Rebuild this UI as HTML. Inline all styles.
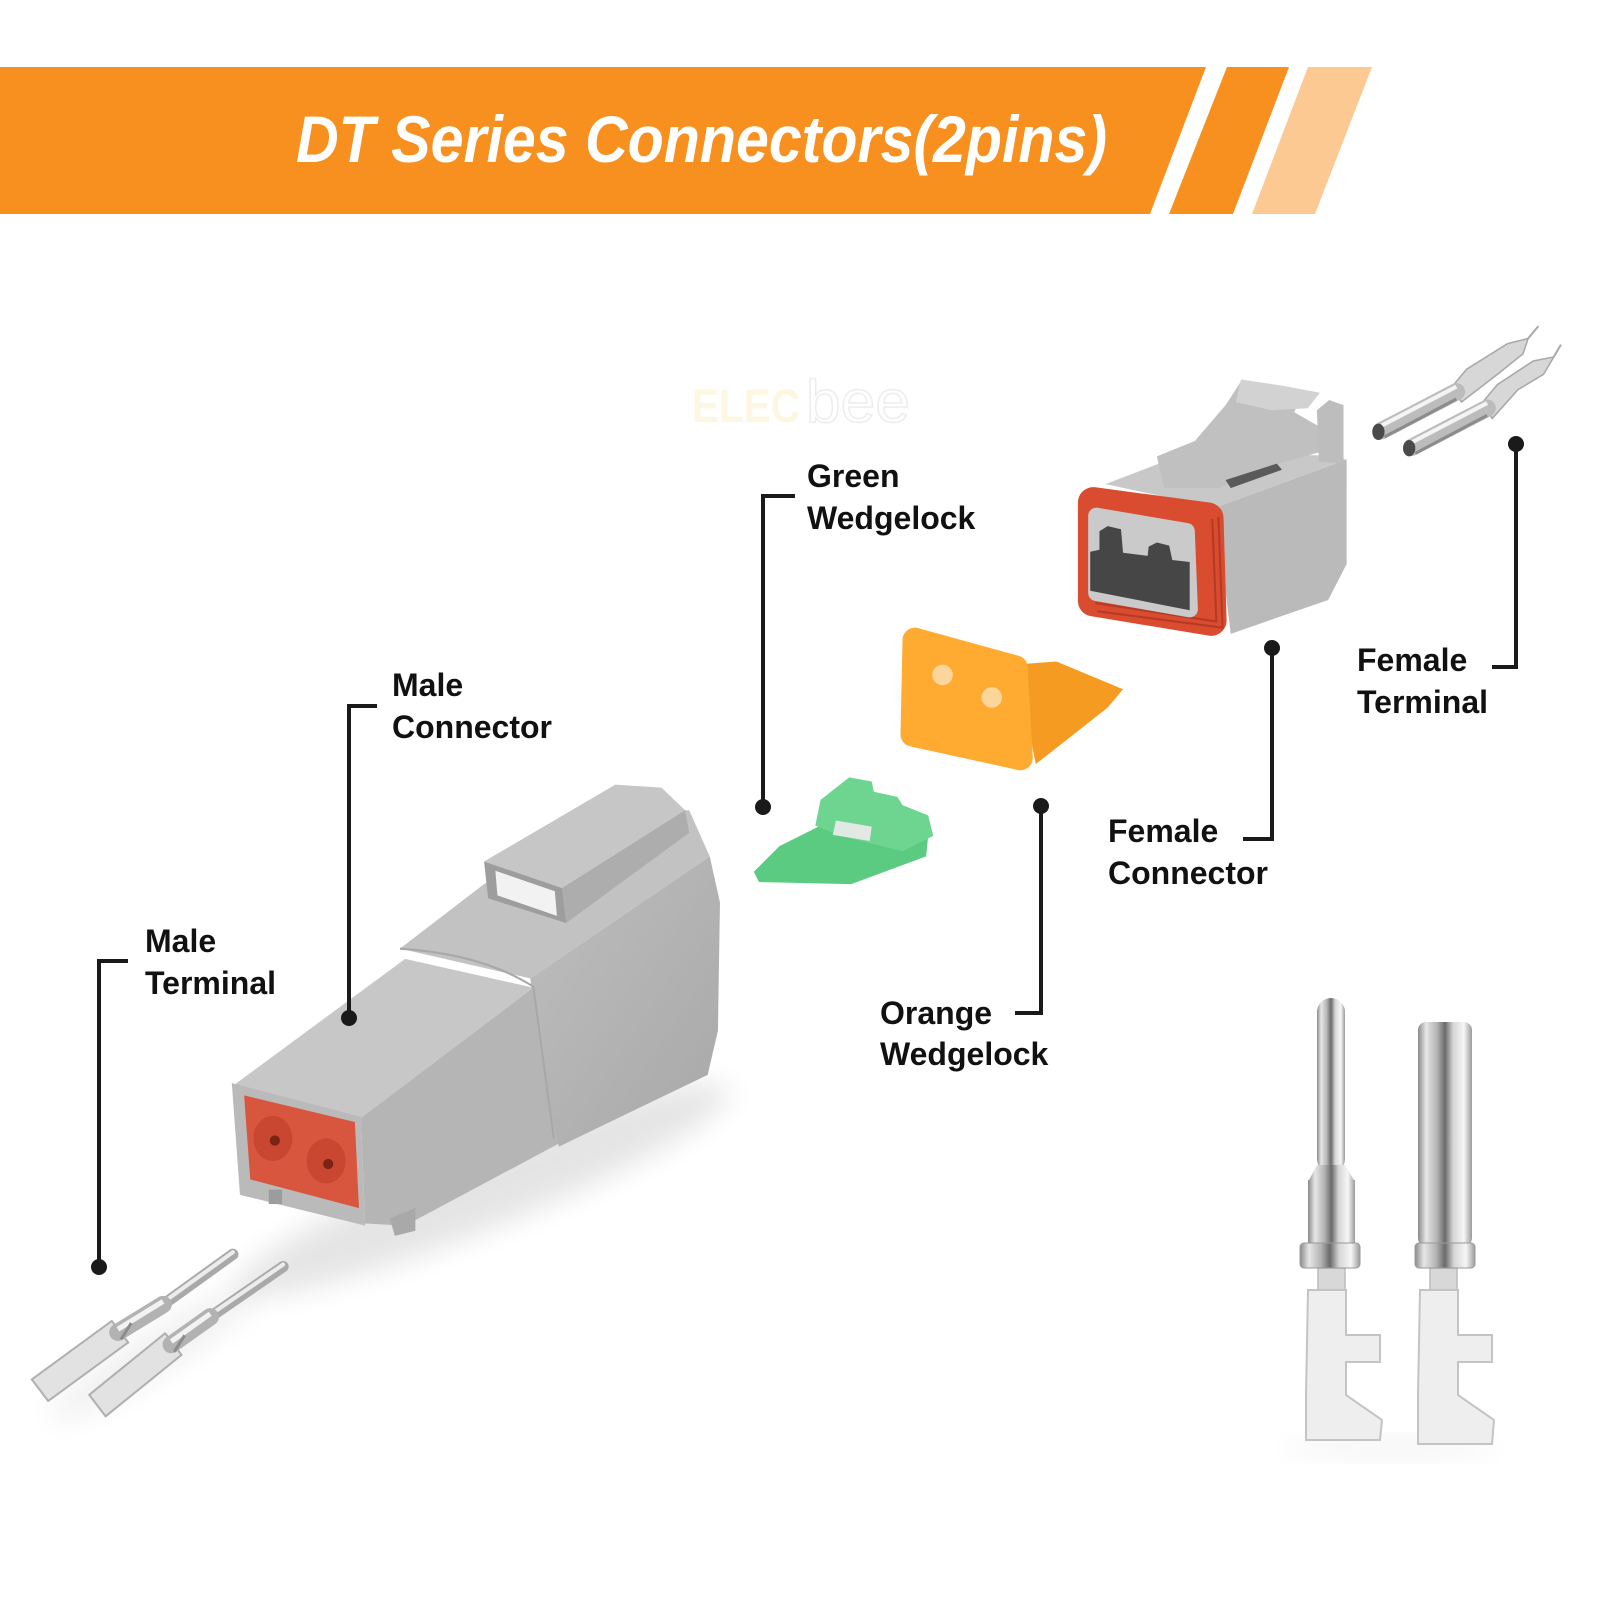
<!DOCTYPE html>
<html>
<head>
<meta charset="utf-8">
<style>
  html,body{margin:0;padding:0;background:#fff;}
  svg{display:block;}
  .lbl{font-family:"Liberation Sans",Arial,sans-serif;font-weight:bold;font-size:32px;fill:#111;}
</style>
</head>
<body>
<svg width="1600" height="1600" viewBox="0 0 1600 1600" xmlns="http://www.w3.org/2000/svg">
  <defs>
    <linearGradient id="silverH" x1="0" y1="0" x2="1" y2="0">
      <stop offset="0" stop-color="#8a8a8a"/>
      <stop offset="0.15" stop-color="#e6e6e6"/>
      <stop offset="0.35" stop-color="#b4b4b4"/>
      <stop offset="0.5" stop-color="#6a6a6a"/>
      <stop offset="0.65" stop-color="#d6d6d6"/>
      <stop offset="0.85" stop-color="#f6f6f6"/>
      <stop offset="1" stop-color="#9a9a9a"/>
    </linearGradient>
    <linearGradient id="greyR" x1="0" y1="0" x2="1" y2="1">
      <stop offset="0" stop-color="#bebebe"/>
      <stop offset="1" stop-color="#a8a8a8"/>
    </linearGradient>
    <filter id="blur" x="-50%" y="-50%" width="200%" height="200%">
      <feGaussianBlur stdDeviation="14"/>
    </filter>
  </defs>

  <rect width="1600" height="1600" fill="#fff"/>

  <!-- Header band -->
  <polygon points="0,67 1206,67 1150,214 0,214" fill="#F7901F"/>
  <polygon points="1227,67 1289,67 1233,214 1169,214" fill="#F7901F"/>
  <polygon points="1308,67 1372,67 1315,214 1252,214" fill="#FCC992"/>
  <text x="296" y="162" font-family="'Liberation Sans',Arial,sans-serif" font-size="66" font-style="italic" font-weight="bold" fill="#fff" textLength="811" lengthAdjust="spacingAndGlyphs">DT Series Connectors(2pins)</text>

  <!-- Watermark -->
  <text x="692" y="422" font-family="'Liberation Sans',Arial,sans-serif" font-size="47" font-weight="bold" fill="#fdf7e2" textLength="108" lengthAdjust="spacingAndGlyphs">ELEC</text>
  <text x="806" y="422" font-family="'Liberation Sans',Arial,sans-serif" font-size="60" fill="none" stroke="#ededed" stroke-width="1.5" textLength="104" lengthAdjust="spacingAndGlyphs">bee</text>

  <!-- Illustrations drawn in 1560 frame, scaled -->
  <g transform="scale(1.0256)">
    <!-- shadows -->
    <ellipse cx="470" cy="1160" rx="260" ry="38" fill="#000" opacity="0.10" filter="url(#blur)" transform="rotate(-22 470 1160)"/>
    <ellipse cx="150" cy="1320" rx="120" ry="20" fill="#000" opacity="0.06" filter="url(#blur)" transform="rotate(-32 150 1320)"/>

    <!-- Male connector -->
    <polygon points="517,954 692,835 702,880 700,1005 690,1048 545,1118 535,1085" fill="url(#greyR)"/>
    <polygon points="390,925 472,862 600,790 672,790 692,835 517,954" fill="#c2c2c2"/>
    <polygon points="472,840 600,765 645,768 668,790 548,866" fill="#c6c6c6"/>
    <polygon points="548,866 668,790 672,812 552,900" fill="#adadad"/>
    <polygon points="472,840 548,866 552,900 476,876" fill="#9d9d9d"/>
    <polygon points="483,849 541,869 543,893 485,873" fill="#f2f2f2"/>
    <polygon points="228,1058 395,935 520,963 352,1090" fill="#c7c7c7"/>
    <polygon points="352,1090 520,963 538,1090 545,1115 395,1195 356,1193" fill="#b5b5b5"/>
    <path d="M390,925 Q470,930 520,962 L540,1110" fill="none" stroke="#a8a8a8" stroke-width="2"/>
    <polygon points="226,1056 352,1089 356,1195 234,1165" fill="#bababa"/>
    <polygon points="238,1068 346,1094 350,1178 244,1150" fill="#d9563e"/>
    <ellipse cx="266" cy="1110" rx="19" ry="22" fill="#c94630"/>
    <circle cx="268" cy="1112" r="5" fill="#7a2418"/>
    <ellipse cx="318" cy="1132" rx="19" ry="22" fill="#c94630"/>
    <circle cx="320" cy="1135" r="5" fill="#7a2418"/>
    <rect x="262" y="1160" width="13" height="14" fill="#9c9c9c"/>
    <polygon points="380,1188 405,1178 405,1200 385,1205" fill="#a9a9a9"/>

    <!-- Male terminals -->
    <polygon points="125,1309 109,1288 31,1345 47,1366" fill="#e2e2e2" stroke="#b0b0b0" stroke-width="2" stroke-linejoin="round"/>
    <line x1="159" y1="1272" x2="227" y2="1223" stroke="#a9a9a9" stroke-width="11" stroke-linecap="round"/>
    <line x1="159" y1="1270" x2="227" y2="1221" stroke="#ececec" stroke-width="4" stroke-linecap="round"/>
    <line x1="115" y1="1299" x2="159" y2="1272" stroke="#b2b2b2" stroke-width="17" stroke-linecap="round"/>
    <line x1="115" y1="1296" x2="159" y2="1269" stroke="#f2f2f2" stroke-width="5"/>
    <line x1="118" y1="1306" x2="128" y2="1290" stroke="#8c8c8c" stroke-width="3"/>

    <polygon points="177,1321 161,1300 87,1360 103,1381" fill="#e2e2e2" stroke="#b0b0b0" stroke-width="2" stroke-linejoin="round"/>
    <line x1="205" y1="1284" x2="276" y2="1235" stroke="#a9a9a9" stroke-width="11" stroke-linecap="round"/>
    <line x1="205" y1="1282" x2="276" y2="1233" stroke="#ececec" stroke-width="4" stroke-linecap="round"/>
    <line x1="167" y1="1311" x2="205" y2="1284" stroke="#b2b2b2" stroke-width="17" stroke-linecap="round"/>
    <line x1="167" y1="1308" x2="205" y2="1281" stroke="#f2f2f2" stroke-width="5"/>
    <line x1="170" y1="1318" x2="180" y2="1302" stroke="#8c8c8c" stroke-width="3"/>

    <!-- Green wedgelock -->
    <polygon points="735,850 760,825 800,805 905,815 903,835 830,862 740,860" fill="#5acb80"/>
    <polygon points="795,805 800,780 828,758 850,762 852,772 875,777 880,785 905,795 910,815 880,830 860,825 820,815" fill="#6dd590"/>
    <polygon points="815,800 850,806 848,820 812,814" fill="#e2e8e4"/>

    <!-- Orange wedgelock -->
    <polygon points="990,648 1030,645 1095,672 1080,690 1010,745" fill="#f59b22"/>
    <polygon points="892,624 990,651 995,739 890,716" fill="#ffab32" stroke="#ffab32" stroke-width="24" stroke-linejoin="round"/>
    <circle cx="919" cy="658" r="10" fill="#fcd59b"/>
    <circle cx="967" cy="680" r="10" fill="#fcd59b"/>

    <!-- Female connector -->
    <polygon points="1185,495 1313,448 1313,550 1295,585 1200,618" fill="#bababa"/>
    <polygon points="1078,472 1130,452 1165,442 1290,444 1313,448 1185,495" fill="#c8c8c8"/>
    <polygon points="1128,445 1165,430 1195,395 1210,372 1250,378 1268,388 1262,402 1290,418 1290,440 1225,458 1190,476 1135,476" fill="#c0c0c0"/>
    <polygon points="1210,370 1250,376 1287,383 1275,398 1240,400 1205,392" fill="#d2d2d2"/>
    <polygon points="1284,400 1296,390 1310,395 1310,452 1286,450" fill="#bdbdbd"/>
    <polygon points="1195,468 1245,452 1250,458 1200,476" fill="#5a5a5a"/>
    <polygon points="1066,490 1178,505 1181,605 1066,586" fill="#d94c2f" stroke="#d94c2f" stroke-width="30" stroke-linejoin="round"/>
    <path d="M1188,504 L1192,612 L1070,596" fill="none" stroke="#b53a24" stroke-width="2"/>
    <path d="M1182,506 L1186,606 L1068,588" fill="none" stroke="#b53a24" stroke-width="2"/>
    <polygon points="1069,503 1157,518 1160,594 1069,578" fill="#cacaca" stroke="#cacaca" stroke-width="16" stroke-linejoin="round"/>
    <polygon points="1063,538 1072,536 1072,518 1080,513 1093,516 1095,539 1119,542 1120,533 1128,529 1140,532 1143,546 1160,548 1160,595 1063,576" fill="#464646"/>

    <!-- Female terminals -->
    <polygon points="1415,378 1430,360 1470,335 1490,330 1485,345 1460,365 1425,392" fill="#d7d7d7" stroke="#a8a8a8" stroke-width="1.5"/>
    <line x1="1490" y1="330" x2="1500" y2="318" stroke="#aaa" stroke-width="2"/>
    <line x1="1347" y1="420" x2="1420" y2="382" stroke="#bcbcbc" stroke-width="17" stroke-linecap="round"/>
    <line x1="1347" y1="415" x2="1420" y2="377" stroke="#f4f4f4" stroke-width="4"/>
    <line x1="1350" y1="426" x2="1420" y2="389" stroke="#8c8c8c" stroke-width="3"/>
    <ellipse cx="1344" cy="421" rx="6" ry="8" fill="#4a4a4a"/>
    <polygon points="1445,393 1460,375 1495,352 1515,348 1505,365 1480,380 1455,408" fill="#d7d7d7" stroke="#a8a8a8" stroke-width="1.5"/>
    <line x1="1515" y1="348" x2="1522" y2="336" stroke="#aaa" stroke-width="2"/>
    <line x1="1377" y1="436" x2="1450" y2="398" stroke="#bcbcbc" stroke-width="17" stroke-linecap="round"/>
    <line x1="1377" y1="431" x2="1450" y2="393" stroke="#f4f4f4" stroke-width="4"/>
    <line x1="1380" y1="442" x2="1450" y2="405" stroke="#8c8c8c" stroke-width="3"/>
    <ellipse cx="1374" cy="437" rx="6" ry="8" fill="#4a4a4a"/>
  </g>

  <!-- Bottom-right terminals (actual coords) -->
  <ellipse cx="1390" cy="1448" rx="110" ry="8" fill="#000" opacity="0.06" filter="url(#blur)"/>
  <g>
    <polygon points="1318,1268 1345,1268 1345,1290 1318,1290" fill="#d8d8d8" stroke="#bbb" stroke-width="1.5"/>
    <polygon points="1308,1290 1346,1290 1346,1335 1380,1335 1380,1362 1346,1362 1346,1395 1382,1420 1380,1440 1306,1440 1306,1395" fill="#eeeeee" stroke="#c4c4c4" stroke-width="2"/>
    <rect x="1317" y="998" width="28" height="175" rx="14" fill="url(#silverH)"/>
    <polygon points="1317,1165 1345,1165 1355,1182 1308,1182" fill="url(#silverH)"/>
    <rect x="1308" y="1180" width="47" height="66" fill="url(#silverH)"/>
    <rect x="1300" y="1243" width="60" height="25" rx="4" fill="url(#silverH)" stroke="#999" stroke-width="1"/>
  </g>
  <g>
    <polygon points="1430,1268 1457,1268 1457,1290 1430,1290" fill="#d8d8d8" stroke="#bbb" stroke-width="1.5"/>
    <polygon points="1420,1290 1458,1290 1458,1335 1492,1335 1492,1362 1458,1362 1458,1395 1494,1420 1492,1444 1418,1444 1418,1395" fill="#eeeeee" stroke="#c4c4c4" stroke-width="2"/>
    <rect x="1418" y="1022" width="54" height="224" rx="8" fill="url(#silverH)"/>
    <rect x="1415" y="1243" width="60" height="25" rx="4" fill="url(#silverH)" stroke="#999" stroke-width="1"/>
  </g>

  <!-- Callout lines -->
  <g stroke="#1a1a1a" stroke-width="4" fill="none">
    <polyline points="795,496 763,496 763,807"/>
    <polyline points="377,706 349,706 349,1018"/>
    <polyline points="128,961 99,961 99,1267"/>
    <polyline points="1243,839 1272,839 1272,648"/>
    <polyline points="1492,667 1516,667 1516,444"/>
    <polyline points="1015,1013 1041,1013 1041,806"/>
  </g>
  <g fill="#1a1a1a">
    <circle cx="763" cy="807" r="8"/>
    <circle cx="349" cy="1018" r="8"/>
    <circle cx="99" cy="1267" r="8"/>
    <circle cx="1272" cy="648" r="8"/>
    <circle cx="1516" cy="444" r="8"/>
    <circle cx="1041" cy="806" r="8"/>
  </g>

  <!-- Labels -->
  <text class="lbl" x="807" y="487">Green</text>
  <text class="lbl" x="807" y="529">Wedgelock</text>
  <text class="lbl" x="392" y="696">Male</text>
  <text class="lbl" x="392" y="738">Connector</text>
  <text class="lbl" x="145" y="952">Male</text>
  <text class="lbl" x="145" y="994">Terminal</text>
  <text class="lbl" x="1108" y="842">Female</text>
  <text class="lbl" x="1108" y="884">Connector</text>
  <text class="lbl" x="1357" y="671">Female</text>
  <text class="lbl" x="1357" y="713">Terminal</text>
  <text class="lbl" x="880" y="1024">Orange</text>
  <text class="lbl" x="880" y="1065">Wedgelock</text>
</svg>
</body>
</html>
